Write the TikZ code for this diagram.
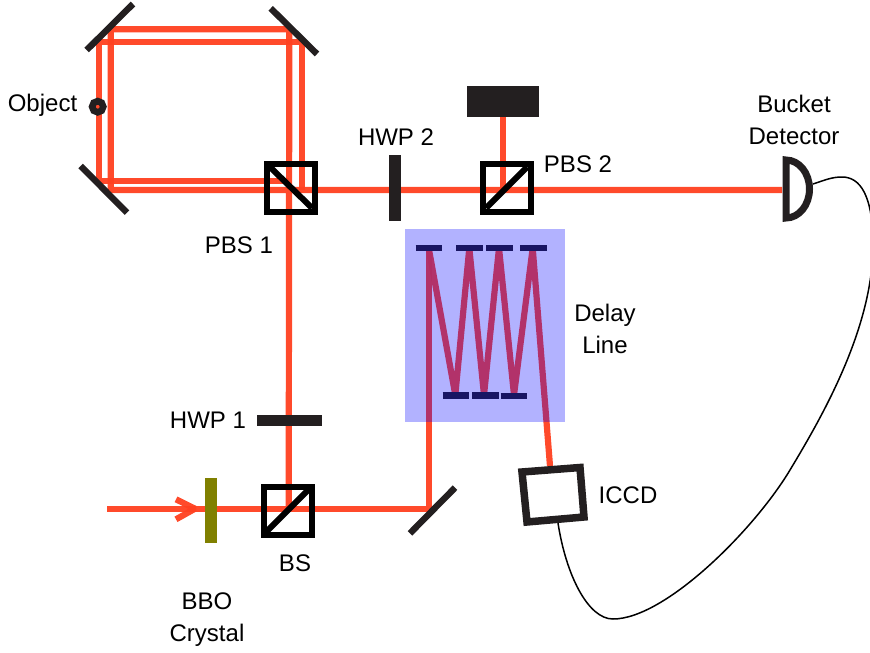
\documentclass[tikz,border=0pt]{standalone}
\usepackage{fontspec}
\setmainfont{Liberation Sans}
\usepackage{xcolor}
\usetikzlibrary{arrows.meta, positioning}
\definecolor{beamred}{RGB}{255,64,32}
\definecolor{optblack}{RGB}{35,31,32}
\definecolor{crystalolive}{RGB}{128,128,0}
\tikzset{
  beam/.style={beamred, line width=6.2pt, opacity=0.95, line join=bevel},
  mirror/.style={optblack, line width=6.4pt},
  cube/.style={draw=black, line width=6pt, minimum size=48pt, inner sep=0pt},
  plate/.style={fill=optblack, draw=none},
  tinymirror/.style={optblack, line width=6.4pt},
  lbl/.style={font=\fontsize{24}{32}\selectfont, align=center, inner sep=0pt},
}
\begin{document}
\begin{tikzpicture}[x=1pt, y=-1pt]
  \useasboundingbox (0,0) rectangle (870,653);

  % anchor points of the beam path
  \coordinate (in) at (107,509);
  \coordinate (tl1) at (110.7,29.3);
  \coordinate (tl2) at (99.3,41.7);
  \coordinate (tr1) at (289.3,29.3);
  \coordinate (tr2) at (302.3,41.7);
  \coordinate (bl1) at (99.3,181);
  \coordinate (bl2) at (110.7,190);
  \coordinate (foldm) at (428.7,509);
  \coordinate (pbsa) at (290.5,187.5);
  \coordinate (pbsb) at (506.5,188);
  \coordinate (bs) at (288,510.5);

  % beams
  \draw[beam] (in) -- (foldm) -- (428.7,248);
  \draw[beam] (288.7,509) -- (tr1) -- (tl1) -- (bl2) -- (782,190);
  \draw[beam] (289.3,181) -- (bl1) -- (tl2) -- (tr2) -- (302.3,190);
  \draw[beam] (502.7,190) -- (502.7,116);
  \draw[beam] (176,499.3) -- (195,508.7) -- (176,519.3);
  \draw[beam] (428.7,248) -- (455.3,395) -- (469.3,248) -- (484,395) -- (499,248) -- (514,395) -- (532.7,248) -- (550,466);

  % splitters
  \node[cube] (pbsabox) at (pbsa) {};
  \node[cube] (pbsbbox) at (pbsb) {};
  \node[cube] (bsbox) at (bs) {};
  \draw[black, line width=6pt] (270,167) -- (312,208);
  \draw[black, line width=6pt] (486,208) -- (527,167);
  \draw[black, line width=6pt] (266,532) -- (310,488);

  % mirrors
  \draw[mirror] (86.7,50) -- (133,4);
  \draw[mirror] (270.7,8.3) -- (317,54);
  \draw[mirror] (80.7,166) -- (127,212.7);
  \draw[mirror] (410,533.3) -- (455,487.7);

  % plates
  \fill[plate] (257.3,415) rectangle (322.3,426);
  \fill[plate] (388.7,155) rectangle (400.7,220.7);
  \fill[plate] (467.3,86) rectangle (539.3,116.7);
  \fill[crystalolive] (205.3,477.7) rectangle (217,543.3);

  % object
  \draw[optblack, line width=6.6pt] (97.7,106.7) circle (5.6pt);

  % delay line
  \draw[tinymirror] (415.7,247.7) -- (442.3,247.7);
  \draw[tinymirror] (456,247.7) -- (482.7,247.7);
  \draw[tinymirror] (486,247.7) -- (512.7,247.7);
  \draw[tinymirror] (520,247.7) -- (546.7,247.7);
  \draw[tinymirror] (442.7,395.3) -- (469.3,395.3);
  \draw[tinymirror] (472,395.3) -- (499,395.3);
  \draw[tinymirror] (500.7,395.7) -- (527.3,395.7);
  \fill[blue, opacity=0.3] (405.3,229.3) rectangle (565,422);

  % detectors
  \draw[optblack, line width=7pt, miter limit=10] (786,160) -- (786,218) arc[start angle=90, end angle=-90, x radius=23.5pt, y radius=-29pt] -- cycle;
  \draw[optblack, line width=7.5pt] (522,472) -- (580,467.5) -- (584,517) -- (527,522) -- cycle;
  \draw[black, line width=1.5pt] (813,184) .. controls (825,180) and (832,177) .. (842,177)
    .. controls (860,177) and (873,195) .. (873,245)
    .. controls (873,330) and (820,420) .. (790,470)
    .. controls (754,530) and (665,619) .. (613,619)
    .. controls (588,619) and (566,575) .. (558,523);

  % labels
  \node[lbl] (objlabel) at (42.5,105) {Object};
  \node[lbl] (pbsalabel) at (239,245) {PBS 1};
  \node[lbl] (hwpblabel) at (396,137) {HWP 2};
  \node[lbl] (pbsblabel) at (578,164) {PBS 2};
  \node[lbl] (bucketlabel) at (794,120) {Bucket\\Detector};
  \node[lbl] (delaylabel) at (605,329) {Delay\\Line};
  \node[lbl] (hwpalabel) at (208,420) {HWP 1};
  \node[lbl] (iccdlabel) at (628,495) {ICCD};
  \node[lbl] (bslabel) at (295,563) {BS};
  \node[lbl] (bbolabel) at (207,619.5) {BBO\\Crystal};
\end{tikzpicture}
\end{document}
